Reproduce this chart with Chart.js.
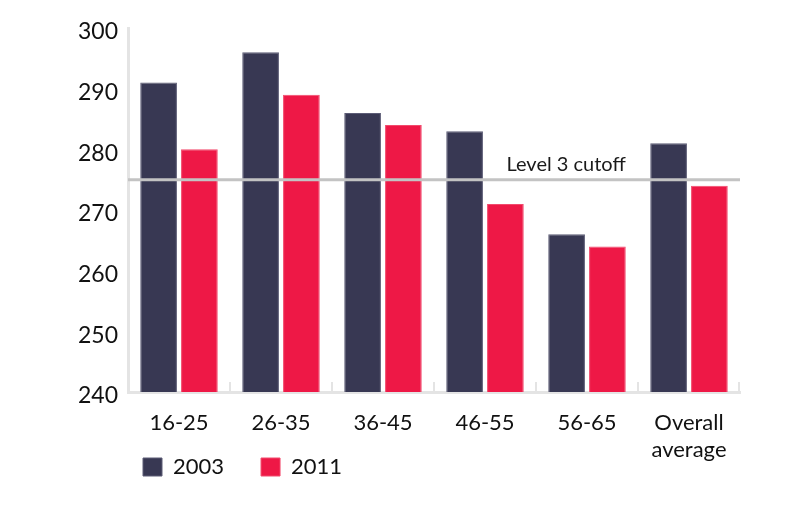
<!DOCTYPE html>
<html>
<head>
<meta charset="utf-8">
<script src="https://cdn.jsdelivr.net/npm/chart.js@4.4.1/dist/chart.umd.min.js"></script>
<style>
  html, body { margin: 0; padding: 0; background: #ffffff; }
  #wrap { width: 800px; height: 512px; position: relative; }
</style>
</head>
<body>
<div id="wrap"><canvas id="c" width="800" height="512"></canvas></div>
<script>
const categories = ['16-25', '26-35', '36-45', '46-55', '56-65', ['Overall', 'average']];
const values2003 = [291, 296, 286, 283, 266, 281];
const values2011 = [280, 289, 284, 271, 264, 274];
const seriesNames = ['2003', '2011'];
const cutoffValue = 275;
const cutoffLabel = 'Level 3 cutoff';
const yMin = 240, yMax = 300, yStep = 10;

const FONT = 'Lato, "Open Sans", sans-serif';
const NAVY = '#383853';
const RED = '#ee1846';
const AXIS = '#e4e4e4';

// place the legend row under the first category (as in the original)
const legendPlacePlugin = {
  id: 'legendPlace',
  beforeDraw(chart) {
    const lg = chart.legend;
    if (!lg) return;
    const pad = lg.options.labels.padding;
    const w = lg.right - lg.left;
    lg.left = chart.chartArea.left + 15 - pad;
    lg.right = lg.left + w;
    lg.top = chart.chartArea.bottom + 64 - pad;
  }
};

const overlayPlugin = {
  id: 'overlay',
  afterDatasetsDraw(chart) {
    const {ctx, chartArea, scales} = chart;
    const xs = scales.x, ys = scales.y;
    ctx.save();
    // boundary tick marks on the category axis (pointing up)
    ctx.strokeStyle = AXIS;
    ctx.lineWidth = 2;
    const n = categories.length;
    const tickXs = [];
    for (let i = 1; i < n; i++) {
      tickXs.push((xs.getPixelForValue(i - 1) + xs.getPixelForValue(i)) / 2);
    }
    tickXs.push(chartArea.right - 1);
    tickXs.forEach(x => {
      ctx.beginPath();
      ctx.moveTo(Math.round(x), chartArea.bottom - 10);
      ctx.lineTo(Math.round(x), chartArea.bottom);
      ctx.stroke();
    });
    // cutoff line
    const y = ys.getPixelForValue(cutoffValue);
    ctx.strokeStyle = '#c3c3c3';
    ctx.lineWidth = 3;
    ctx.beginPath();
    ctx.moveTo(chartArea.left, y);
    ctx.lineTo(chartArea.right, y);
    ctx.stroke();
    // cutoff label, right-aligned to the 2011 bar of 56-65
    const bar = chart.getDatasetMeta(1).data[4];
    const xr = bar.x + bar.width / 2;
    ctx.fillStyle = '#1a1a1a';
    ctx.font = '20px ' + FONT;
    ctx.textAlign = 'right';
    ctx.textBaseline = 'alphabetic';
    ctx.fillText(cutoffLabel, xr, y - 9);
    ctx.restore();
  }
};

new Chart(document.getElementById('c'), {
  type: 'bar',
  data: {
    labels: categories,
    datasets: [
      { label: seriesNames[0], data: values2003, backgroundColor: NAVY, borderColor: '#5c5c76', borderWidth: 1,
        barPercentage: 0.9, categoryPercentage: 0.8 },
      { label: seriesNames[1], data: values2011, backgroundColor: RED, borderColor: '#f24a6c', borderWidth: 1,
        barPercentage: 0.9, categoryPercentage: 0.8 }
    ]
  },
  options: {
    responsive: false,
    animation: false,
    devicePixelRatio: 1,
    layout: { padding: { left: 60, right: 60, top: 28, bottom: 0 } },
    plugins: {
      legend: {
        position: 'bottom',
        align: 'start',
        maxHeight: 50,
        labels: {
          boxWidth: 19, boxHeight: 18, padding: 37,
          color: '#111',
          font: { family: FONT, size: 22 }
        }
      },
      tooltip: { enabled: false }
    },
    scales: {
      x: {
        afterFit(scale) { scale.height = 70; },
        grid: { display: false },
        border: { display: true, color: AXIS, width: 3 },
        ticks: { color: '#111', font: { family: FONT, size: 22 }, padding: 10, maxRotation: 0, autoSkip: false }
      },
      y: {
        min: yMin, max: yMax,
        afterFit(scale) { scale.width = 68; },
        grid: { display: false, drawTicks: false },
        border: { display: true, color: AXIS, width: 3 },
        ticks: { stepSize: yStep, color: '#111', font: { family: FONT, size: 23 }, padding: 10, labelOffset: 4 }
      }
    }
  },
  plugins: [legendPlacePlugin, overlayPlugin]
});
</script>
</body>
</html>
